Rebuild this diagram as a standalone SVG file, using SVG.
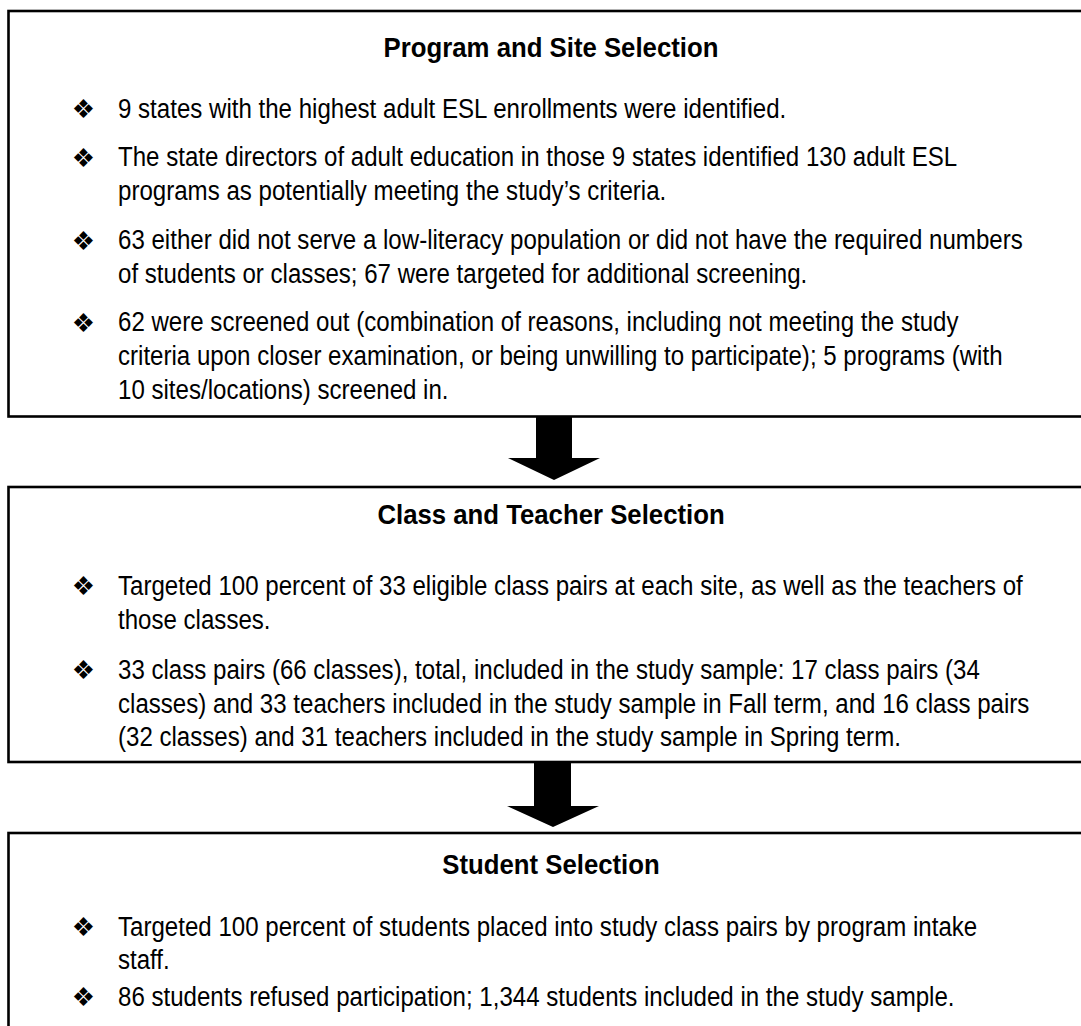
<svg xmlns="http://www.w3.org/2000/svg" width="1081" height="1026" viewBox="0 0 1081 1026">
<style>
.box{fill:#fff;stroke:#000;stroke-width:2.6}
.t{font-family:"Liberation Sans",Arial,sans-serif;font-size:28px;font-weight:bold;fill:#000;text-anchor:middle}
.b{font-family:"Liberation Sans",Arial,sans-serif;font-size:28px;fill:#000}
.m{font-family:"DejaVu Sans",sans-serif;font-size:26px;fill:#000;text-anchor:middle}
.arr{fill:#000}
</style>
<rect width="1081" height="1026" fill="#fff"/>
<g id="node-program">
<rect class="box" x="8.5" y="11" width="1100" height="405.5"/>
<g transform="translate(551 0) scale(0.92 1)"><text class="t" x="0" y="57">Program and Site Selection</text></g>
<text class="m" x="83.5" y="118">❖</text>
<text class="m" x="83.5" y="167">❖</text>
<text class="m" x="83.5" y="250">❖</text>
<text class="m" x="83.5" y="332">❖</text>
<g transform="translate(118 0) scale(0.86 1)">
<text class="b" x="0" y="118">9 states with the highest adult ESL enrollments were identified.</text>
<text class="b" x="0" y="166.5">The state directors of adult education in those 9 states identified 130 adult ESL</text>
<text class="b" x="0" y="200.5">programs as potentially meeting the study’s criteria.</text>
<text class="b" x="0" y="249">63 either did not serve a low-literacy population or did not have the required numbers</text>
<text class="b" x="0" y="283">of students or classes; 67 were targeted for additional screening.</text>
<text class="b" x="0" y="331">62 were screened out (combination of reasons, including not meeting the study</text>
<text class="b" x="0" y="365">criteria upon closer examination, or being unwilling to participate); 5 programs (with</text>
<text class="b" x="0" y="399">10 sites/locations) screened in.</text>
</g>
</g>
<g id="node-class">
<rect class="box" x="8.5" y="487" width="1100" height="275"/>
<g transform="translate(551 0) scale(0.92 1)"><text class="t" x="0" y="524">Class and Teacher Selection</text></g>
<text class="m" x="83.5" y="595">❖</text>
<text class="m" x="83.5" y="679">❖</text>
<g transform="translate(118 0) scale(0.86 1)">
<text class="b" x="0" y="595">Targeted 100 percent of 33 eligible class pairs at each site, as well as the teachers of</text>
<text class="b" x="0" y="629">those classes.</text>
<text class="b" x="0" y="679">33 class pairs (66 classes), total, included in the study sample: 17 class pairs (34</text>
<text class="b" x="0" y="713">classes) and 33 teachers included in the study sample in Fall term, and 16 class pairs</text>
<text class="b" x="0" y="746">(32 classes) and 31 teachers included in the study sample in Spring term.</text>
</g>
</g>
<g id="node-student">
<rect class="box" x="8.5" y="833" width="1100" height="300"/>
<g transform="translate(551 0) scale(0.92 1)"><text class="t" x="0" y="874">Student Selection</text></g>
<text class="m" x="83.5" y="936">❖</text>
<text class="m" x="83.5" y="1006">❖</text>
<g transform="translate(118 0) scale(0.86 1)">
<text class="b" x="0" y="936">Targeted 100 percent of students placed into study class pairs by program intake</text>
<text class="b" x="0" y="969">staff.</text>
<text class="b" x="0" y="1006">86 students refused participation; 1,344 students included in the study sample.</text>
</g>
</g>
<g id="connectors">
<polygon class="arr" points="536,417 572,417 572,458 600,458 554,480 508,458 536,458"/>
<polygon class="arr" points="534,763 571,763 571,806 599,806 553,827 507,806 534,806"/>
</g>
</svg>
